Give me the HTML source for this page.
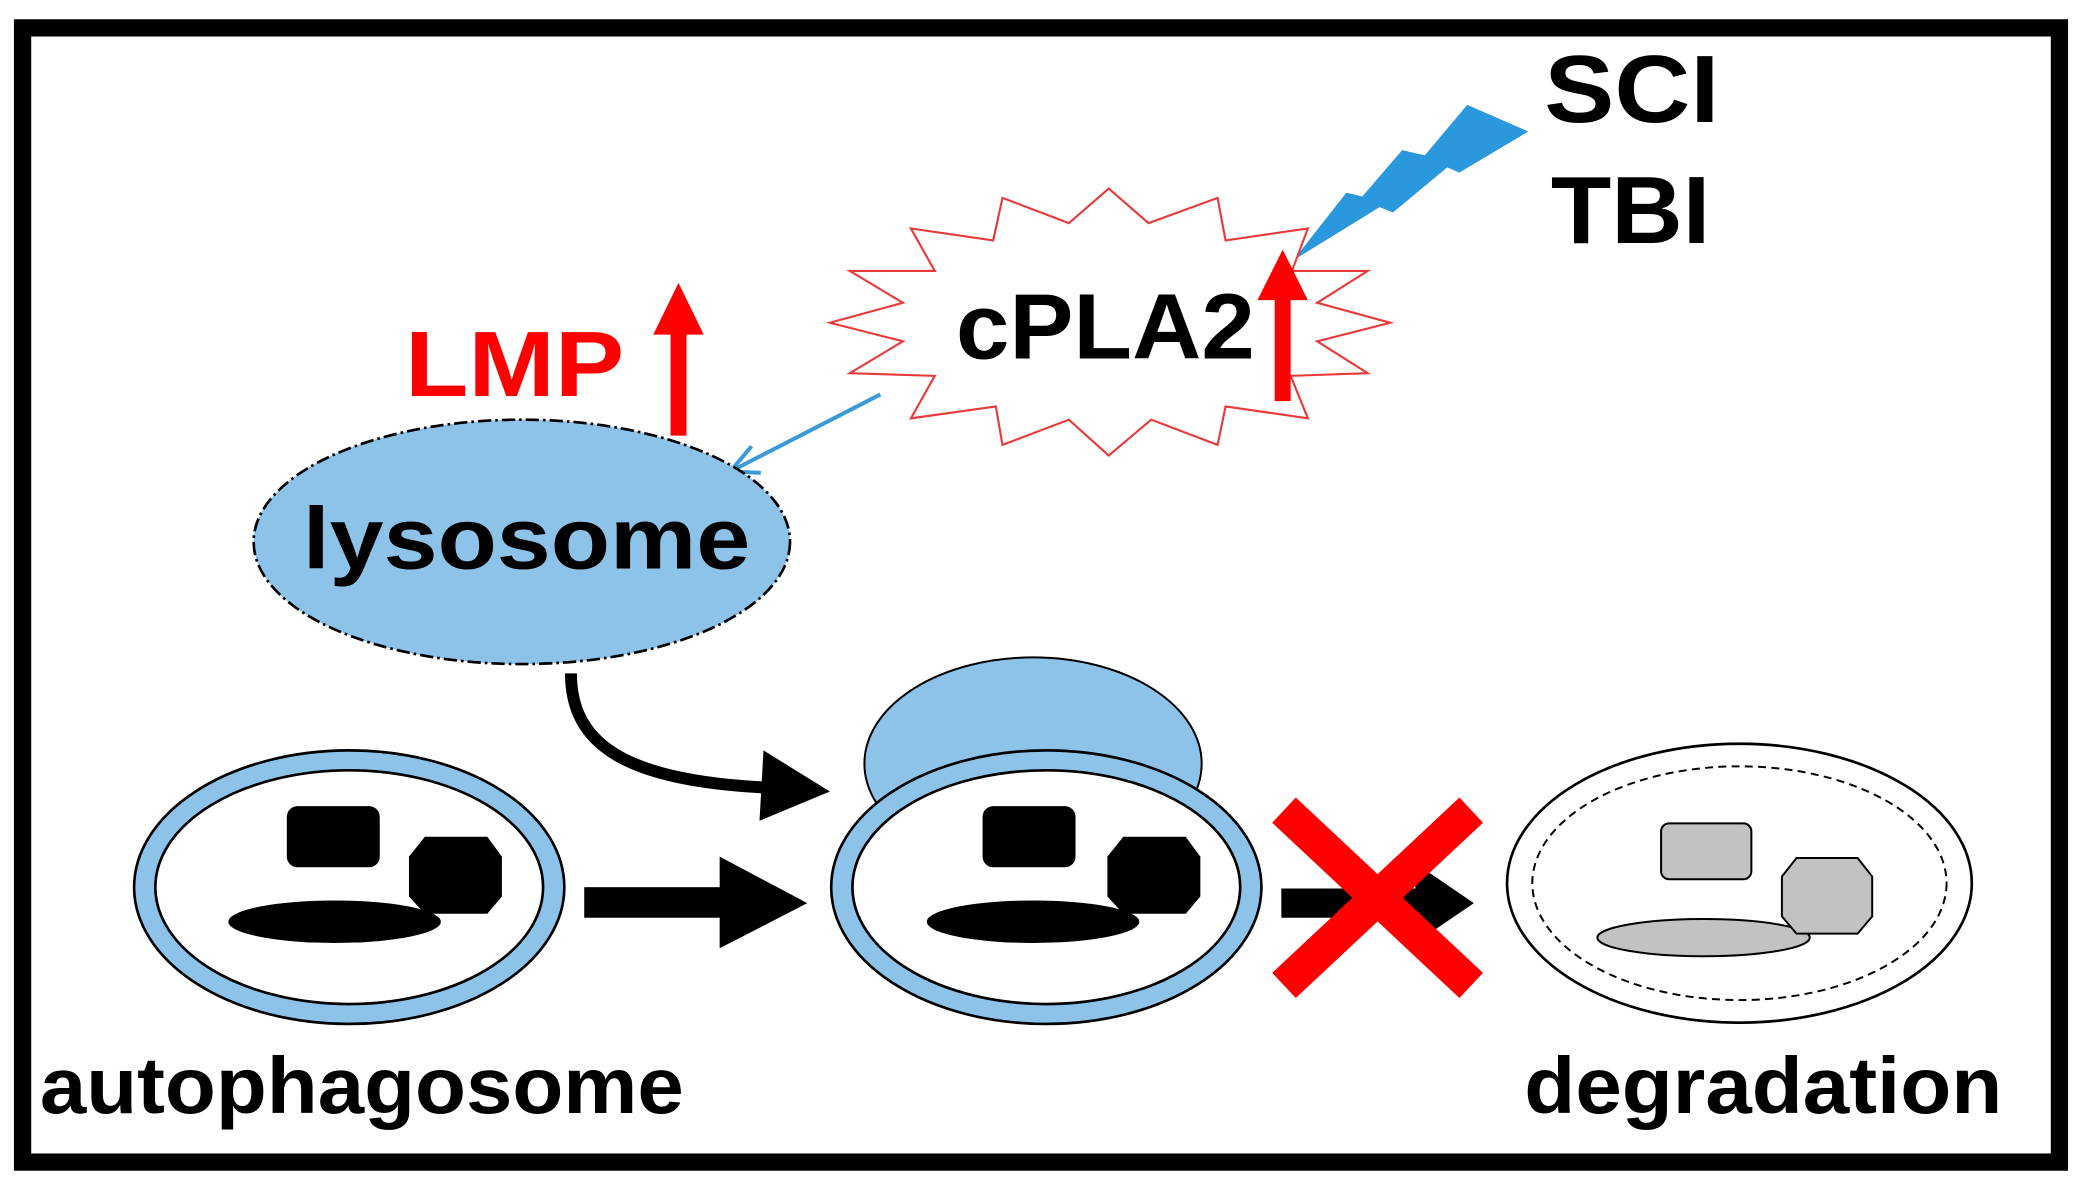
<!DOCTYPE html>
<html><head><meta charset="utf-8"><style>
html,body{margin:0;padding:0;background:#fff}
svg{display:block}
text{font-family:"Liberation Sans",Arial,sans-serif;font-weight:bold}
</style></head><body>
<svg width="2082" height="1186" viewBox="0 0 1568 893" preserveAspectRatio="none" xmlns="http://www.w3.org/2000/svg">
<rect x="0" y="0" width="1568" height="893" fill="#fff"/>
<rect x="17" y="21" width="1534" height="854" fill="none" stroke="#000" stroke-width="13"/>

<text x="1163" y="92" font-size="72" fill="#000" textLength="132" lengthAdjust="spacingAndGlyphs">SCI</text>
<text x="1168" y="183" font-size="72" fill="#000" textLength="120" lengthAdjust="spacingAndGlyphs">TBI</text>

<polygon points="974,196 1014,145 1026,148 1056,113 1073,117 1105,79 1151,99 1099,130 1090,126 1049,160 1039,156" fill="#2a98dc"/>

<polygon points="835,142 865,168 917,149 923,181 985,172 973,204 1030,204 992,228 1047,243 992,257 1030,281 972,283 985,315 923,306 917,335 867,316 835,343 805,316 755,335 750,306 686,315 704,283 640,281 680,257 625,243 680,228 640,204 704,204 686,172 748,181 755,149 805,168" fill="#fff" stroke="#e83a3a" stroke-width="1.6"/>
<text x="720" y="270" font-size="70" fill="#000" textLength="225" lengthAdjust="spacingAndGlyphs">cPLA2</text>
<rect x="960" y="222" width="12" height="80" fill="#f00"/>
<polygon points="947,226 985,226 966,188" fill="#f00"/>

<text x="305" y="298" font-size="70" fill="#f00" textLength="165" lengthAdjust="spacingAndGlyphs">LMP</text>
<rect x="505" y="248" width="12" height="80" fill="#f00"/>
<polygon points="492,252 530,252 511,213" fill="#f00"/>

<line x1="663" y1="297" x2="552" y2="354" stroke="#3a9ad9" stroke-width="3"/>
<polyline points="566,336 550,355 573,356" fill="none" stroke="#3a9ad9" stroke-width="3"/>

<ellipse cx="393" cy="408" rx="202" ry="92" fill="#8ec3e9" stroke="#000" stroke-width="2" stroke-dasharray="10,3,2,3"/>
<text x="228" y="428" font-size="66" fill="#000" textLength="337" lengthAdjust="spacingAndGlyphs">lysosome</text>

<path d="M430,507 C430,560 470,588 578,593" fill="none" stroke="#000" stroke-width="9"/>
<polygon points="575,565 625,596 572,618" fill="#000"/>

<ellipse cx="778" cy="575" rx="127" ry="80" fill="#8ec3e9" stroke="#000" stroke-width="1.5"/>

<ellipse cx="263" cy="668" rx="162" ry="103" fill="#8ec3e9" stroke="#000" stroke-width="2"/>
<ellipse cx="263" cy="668" rx="146" ry="88" fill="#fff" stroke="#000" stroke-width="2"/>
<rect x="216" y="607" width="70" height="46" rx="8" fill="#000"/>
<ellipse cx="252" cy="694" rx="80" ry="16" fill="#000"/>
<polygon points="320,630 367,630 378,645 378,675 367,688 320,688 308,675 308,645" fill="#000"/>

<ellipse cx="788" cy="668" rx="162" ry="103" fill="#8ec3e9" stroke="#000" stroke-width="2"/>
<ellipse cx="788" cy="668" rx="146" ry="88" fill="#fff" stroke="#000" stroke-width="2"/>
<rect x="740" y="607" width="70" height="46" rx="8" fill="#000"/>
<ellipse cx="778" cy="694" rx="80" ry="16" fill="#000"/>
<polygon points="846,630 893,630 904,645 904,675 893,688 846,688 834,675 834,645" fill="#000"/>

<rect x="440" y="668" width="105" height="23" fill="#000"/>
<polygon points="542,645 608,680 542,714" fill="#000"/>

<rect x="965" y="669" width="105" height="22" fill="#000"/>
<polygon points="1066,650 1110,680 1066,710" fill="#000"/>

<line x1="967" y1="610" x2="1108" y2="742" stroke="#f00" stroke-width="26"/>
<line x1="1108" y1="610" x2="967" y2="742" stroke="#f00" stroke-width="26"/>

<ellipse cx="1310" cy="665" rx="175" ry="105" fill="#fff" stroke="#000" stroke-width="2"/>
<ellipse cx="1310" cy="665" rx="156" ry="88" fill="none" stroke="#000" stroke-width="1.5" stroke-dasharray="6,4"/>
<rect x="1251" y="620" width="68" height="42" rx="6" fill="#c2c2c2" stroke="#000" stroke-width="1.5"/>
<ellipse cx="1283" cy="706" rx="80" ry="14" fill="#c2c2c2" stroke="#000" stroke-width="1.5"/>
<polygon points="1353,646 1399,646 1410,660 1410,690 1399,703 1353,703 1342,690 1342,660" fill="#c2c2c2" stroke="#000" stroke-width="1.5"/>

<text x="30" y="838" font-size="60" fill="#000" textLength="485" lengthAdjust="spacingAndGlyphs">autophagosome</text>
<text x="1148" y="838" font-size="60" fill="#000" textLength="360" lengthAdjust="spacingAndGlyphs">degradation</text>
</svg>
</body></html>
